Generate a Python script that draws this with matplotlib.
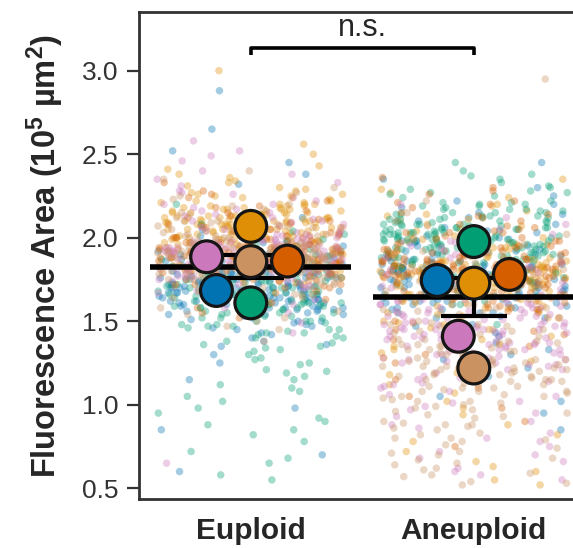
import numpy as np
import pandas as pd
import matplotlib
matplotlib.use("Agg")
import matplotlib.pyplot as plt
import seaborn as sns

# ---------------- data ----------------
conditions = ["Euploid", "Aneuploid"]
replicates = ["R1", "R2", "R3", "R4", "R5", "R6"]
palette = ["#0173b2", "#de8f05", "#029e73", "#d55e00", "#cc78bc", "#ca9161"]

# replicate means (big circles), order = replicates
means_euploid = [1.684, 2.068, 1.61, 1.86, 1.886, 1.857]
means_aneuploid = [1.744, 1.728, 1.977, 1.78, 1.41, 1.22]

# individual cell values (small dots), per replicate
eu_r1 = [1.68,1.74,1.61,1.80,1.55,1.71,1.88,1.64,1.77,1.50,1.69,1.93,1.58,1.73,1.66,1.84,1.47,1.70,1.79,1.62,1.98,1.56,1.75,1.67,1.86,1.43,1.72,1.60,1.81,1.65,2.05,1.53,1.76,1.69,1.90,1.38,1.63,1.78,1.70,2.52,1.57,1.83,1.66,1.73,1.30,1.95,1.61,1.76,2.65,1.68,1.48,1.85,1.72,0.98,1.64,1.79,2.88,1.59,1.70,0.60,1.82,1.66,2.45,1.54,1.75,0.85,1.71,1.63,2.12,1.77,
         1.70,1.62,1.78,1.57,1.73,1.66,1.84,1.52,1.69,1.75,1.60,1.81,1.64,1.71,1.49,1.77,1.67,1.90,1.58,1.72,1.63,1.86,1.54,1.74,1.68,1.95,1.45,1.70,1.79,1.61,1.83,1.56,1.76,1.65,2.01,1.40,1.72,1.59,1.88,1.67,1.35,1.80,1.62,2.32,1.74,1.51,1.92,1.69,1.25,1.78,
         1.66,1.72,1.59,1.77,1.63,1.70,1.54,1.81,1.68,1.74,1.61,1.87,1.65,1.71,1.57,1.79,1.69,1.50,1.76,1.64,1.83,1.73,1.60,1.91,1.67,1.46,1.75,1.62,1.85,1.70,1.42,1.78,1.66,1.97,1.58,1.73,1.36,1.82,1.64,2.08,1.71,1.55,1.89,1.68,1.15,1.76,2.38,1.63,0.70,1.80]
eu_r2 = [2.05,1.98,2.12,2.21,1.87,2.03,2.15,1.93,2.08,2.26,1.99,2.11,1.82,2.04,2.17,2.31,1.95,2.07,2.00,2.13,1.90,2.22,2.06,1.85,2.02,2.18,2.09,1.96,2.14,2.36,1.79,2.01,2.10,2.24,1.94,2.05,2.19,1.88,2.12,2.03,1.97,2.28,2.08,1.91,2.16,2.00,2.06,1.84,2.20,2.11,1.99,2.04,2.33,1.76,2.09,2.14,1.93,2.02,2.25,1.89,2.07,2.17,1.98,2.43,1.70,2.10,2.01,3.00,1.95,2.13,
         2.08,1.96,2.15,2.02,2.22,1.91,2.10,2.04,2.19,1.86,2.06,2.13,1.99,2.27,2.01,2.11,1.93,2.17,2.05,2.30,1.88,2.09,2.00,2.21,1.97,2.14,2.07,1.83,2.24,2.03,2.12,1.95,2.18,2.06,2.38,1.80,2.10,1.98,2.16,2.04,2.26,1.92,2.08,2.50,1.74,2.13,2.02,2.20,1.90,2.07,
         2.06,1.99,2.11,2.03,2.17,1.94,2.09,2.01,2.14,1.89,2.05,2.20,1.97,2.12,2.02,2.25,1.92,2.08,2.15,1.85,2.04,2.10,1.96,2.29,2.00,2.13,1.87,2.18,2.06,1.93,2.34,2.03,2.11,1.81,2.07,2.23,1.98,2.15,1.78,2.09,2.41,2.01,2.16,1.95,2.05,2.56,1.72,2.12,2.00,2.19]
eu_r3 = [1.61,1.72,1.55,1.80,1.66,1.45,1.75,1.58,1.90,1.68,1.38,1.78,1.63,1.50,1.85,1.70,1.28,1.64,1.95,1.57,1.74,1.42,1.82,1.67,1.19,1.60,1.88,1.71,1.35,1.77,1.52,2.02,1.65,1.10,1.73,1.59,1.86,1.47,1.69,0.92,1.79,1.62,1.40,2.10,1.54,1.76,0.78,1.66,1.83,1.24,1.70,1.56,0.65,1.92,1.63,1.33,1.74,1.05,1.68,1.87,0.58,1.49,1.78,1.15,1.60,2.20,0.85,1.72,1.44,1.98,
         1.64,1.52,1.75,1.58,1.69,1.46,1.81,1.62,1.55,1.72,1.37,1.66,1.88,1.50,1.77,1.60,1.30,1.70,1.57,1.93,1.43,1.67,1.21,1.79,1.63,1.48,1.85,1.12,1.71,1.54,1.99,1.34,1.68,1.02,1.76,1.59,1.40,1.90,0.88,1.65,1.53,0.72,1.82,1.61,1.27,1.74,0.95,1.69,1.45,2.08,
         1.62,1.70,1.55,1.76,1.60,1.67,1.48,1.73,1.58,1.83,1.64,1.41,1.71,1.53,1.79,1.66,1.32,1.75,1.57,1.89,1.62,1.25,1.69,1.50,1.84,1.17,1.73,1.59,1.96,1.08,1.66,1.43,1.78,0.98,1.61,1.86,1.36,0.82,1.70,1.52,0.68,1.77,1.63,1.20,2.04,0.55,1.67,1.47,0.90,1.74]
eu_r4 = [1.86,1.91,1.80,1.97,1.84,1.89,2.03,1.77,1.93,1.85,1.99,1.72,1.88,2.08,1.82,1.90,1.95,1.75,1.87,2.12,1.83,1.92,1.68,1.96,1.86,2.01,1.79,1.89,2.15,1.81,1.94,1.73,1.88,2.05,1.84,1.98,1.63,1.90,1.86,2.19,1.78,1.92,1.85,2.00,1.70,1.87,1.95,1.80,2.10,1.89,1.83,1.96,1.76,1.91,2.06,1.85,1.58,1.93,1.88,2.22,1.82,1.97,1.74,1.90,1.86,2.02,1.79,1.94,1.87,2.28,
         1.88,1.81,1.94,1.77,1.90,1.84,2.00,1.72,1.87,1.96,1.79,1.92,1.85,2.06,1.75,1.89,1.83,1.98,1.69,1.91,1.86,2.11,1.78,1.93,1.82,2.03,1.66,1.88,1.95,1.80,2.16,1.74,1.90,1.84,1.99,1.61,1.87,2.08,1.79,1.93,1.71,2.24,1.85,1.89,1.55,1.97,1.82,2.01,1.76,1.92,
         1.87,1.83,1.92,1.78,1.89,1.85,1.97,1.75,1.90,1.82,2.02,1.73,1.88,1.94,1.80,2.07,1.86,1.70,1.91,1.84,2.13,1.77,1.93,1.87,1.67,1.99,1.81,2.18,1.89,1.74,1.95,1.64,2.04,1.85,1.79,2.26,1.90,1.59,1.97,1.83,2.09,1.72,1.88,1.52,2.00,1.86,2.33,1.78,1.92,1.84]
eu_r5 = [1.89,1.95,1.82,2.04,1.76,1.91,2.10,1.85,1.98,1.70,1.93,2.17,1.87,1.80,2.01,1.92,1.65,1.96,2.24,1.84,1.90,2.07,1.78,1.99,1.88,2.35,1.73,1.94,1.86,2.12,1.81,1.97,1.60,1.91,2.03,1.83,2.46,1.89,1.75,2.00,1.94,1.87,2.15,1.79,1.92,1.68,2.06,1.85,1.96,2.28,1.82,1.90,1.55,1.99,1.88,2.09,1.77,1.93,2.40,1.86,1.84,2.02,1.71,1.95,1.90,0.65,1.98,1.81,2.20,1.87,
         1.90,1.84,1.97,1.79,1.93,2.05,1.86,1.72,1.95,2.13,1.82,1.91,1.99,1.76,1.88,2.20,1.85,1.67,1.94,2.08,1.80,1.92,1.87,2.31,1.74,1.96,1.89,2.02,1.63,1.91,2.52,1.83,1.98,1.78,2.11,1.88,1.70,1.95,2.26,1.86,1.93,1.58,2.04,1.81,1.90,2.16,1.77,1.97,1.49,1.89,
         1.88,1.94,1.81,2.00,1.86,1.77,1.96,2.08,1.83,1.91,2.18,1.74,1.92,1.87,2.04,1.69,1.95,2.27,1.80,1.90,1.99,1.64,1.89,2.14,1.85,2.38,1.78,1.97,1.93,1.56,2.06,1.84,2.22,1.73,1.91,2.49,1.82,1.98,1.66,2.10,1.88,2.33,1.79,1.94,1.43,2.02,1.87,2.58,1.76,1.92]
eu_r6 = [1.86,1.92,1.78,2.01,1.84,1.95,1.71,1.88,2.07,1.80,1.90,1.99,1.74,1.87,2.12,1.83,1.93,1.68,1.97,1.85,2.04,1.79,1.89,1.62,1.94,2.15,1.81,1.87,1.76,2.02,1.91,1.58,1.84,1.98,2.20,1.73,1.88,1.82,2.06,1.95,1.66,1.86,1.77,2.10,1.90,1.83,1.52,1.96,1.89,2.25,1.80,1.92,1.70,2.00,1.85,1.75,1.94,2.08,1.87,1.64,1.91,1.81,2.03,1.78,1.99,1.45,1.88,2.30,1.84,1.93,
         1.85,1.91,1.79,1.97,1.83,1.88,2.05,1.74,1.93,1.86,2.01,1.70,1.89,1.82,2.10,1.77,1.95,1.84,1.66,1.92,1.87,2.17,1.80,1.90,1.61,1.98,1.85,2.07,1.76,1.88,1.56,1.94,1.83,2.23,1.72,1.91,1.86,2.02,1.68,1.89,1.81,2.13,1.78,1.96,1.50,1.87,2.35,1.84,1.92,1.75,
         1.87,1.82,1.93,1.77,1.90,1.85,2.00,1.72,1.88,1.95,1.80,2.06,1.84,1.91,1.69,1.98,1.86,2.12,1.75,1.89,1.83,2.04,1.64,1.92,1.87,2.19,1.79,1.94,1.59,1.85,2.09,1.81,1.97,1.73,2.27,1.88,1.66,1.90,2.01,1.54,1.86,2.14,1.78,1.95,1.47,2.40,1.83,1.91,1.38,1.89]

an_r1 = [1.74,1.80,1.67,1.86,1.71,1.92,1.62,1.78,1.69,1.98,1.75,1.58,1.83,1.72,2.04,1.65,1.88,1.77,1.53,1.81,1.70,2.10,1.76,1.60,1.85,1.73,1.95,1.66,1.79,1.48,1.90,1.74,2.15,1.63,1.82,1.70,1.55,1.87,1.76,2.00,1.68,1.43,1.84,1.72,1.97,1.61,1.79,2.20,1.75,1.57,1.89,1.71,1.38,1.83,1.77,2.06,1.64,1.80,1.52,1.93,1.73,1.30,1.86,1.69,2.25,1.78,1.60,1.91,1.74,1.05,
         1.76,1.69,1.83,1.64,1.79,1.72,1.91,1.58,1.77,1.85,1.67,1.81,1.74,1.97,1.61,1.78,1.70,1.89,1.55,1.80,1.73,2.03,1.63,1.84,1.76,1.47,1.87,1.71,2.12,1.59,1.82,1.68,1.94,1.41,1.79,1.75,2.18,1.65,1.86,1.33,1.73,1.99,1.60,1.81,1.22,1.77,2.30,1.70,0.95,1.84,
         1.75,1.71,1.81,1.66,1.77,1.84,1.62,1.79,1.73,1.90,1.68,1.82,1.57,1.76,1.95,1.70,1.86,1.64,1.80,2.01,1.74,1.52,1.83,1.69,2.08,1.78,1.45,1.88,1.72,2.14,1.61,1.80,1.37,1.92,1.75,2.22,1.66,1.27,1.85,1.71,1.98,1.17,1.79,2.35,1.63,1.02,1.82,0.85,1.74,2.45]
an_r2 = [1.73,1.82,1.65,1.90,1.77,1.58,1.86,1.70,1.96,1.63,1.80,1.75,2.02,1.55,1.84,1.68,1.93,1.72,1.48,1.88,1.79,2.08,1.61,1.76,1.99,1.66,1.83,1.41,1.91,1.74,2.14,1.59,1.81,1.69,1.95,1.35,1.78,1.87,1.64,2.05,1.72,1.26,1.85,1.77,1.98,1.53,1.70,2.20,1.82,1.18,1.67,1.89,1.75,1.02,1.94,1.60,2.11,1.79,0.88,1.71,1.86,1.45,2.00,1.76,0.72,1.84,1.62,2.27,1.73,0.55,
         1.75,1.66,1.84,1.59,1.79,1.71,1.92,1.52,1.77,1.86,1.64,1.81,1.97,1.46,1.74,1.88,1.68,2.04,1.39,1.80,1.72,1.94,1.31,1.83,1.76,2.10,1.57,1.85,1.23,1.78,1.99,1.62,1.87,1.12,1.73,2.16,1.69,0.98,1.82,1.90,1.54,0.82,1.77,2.24,1.65,0.66,1.84,1.43,2.01,0.60,
         1.74,1.68,1.80,1.61,1.76,1.87,1.56,1.78,1.70,1.93,1.50,1.82,1.73,2.00,1.44,1.79,1.88,1.65,2.07,1.36,1.75,1.84,1.58,2.13,1.28,1.81,1.72,1.96,1.19,1.77,2.19,1.63,1.07,1.86,1.71,0.94,1.83,2.29,1.67,0.78,1.80,1.90,0.63,1.76,1.49,2.35,0.52,1.85,1.33,1.98]
an_r3 = [1.98,2.05,1.91,2.12,1.95,2.01,2.18,1.88,2.07,1.97,2.22,1.84,2.03,1.93,2.15,2.00,1.80,2.09,1.96,2.27,1.90,2.04,1.86,2.13,1.99,2.08,1.76,2.20,1.94,2.02,2.31,1.89,2.06,1.97,1.72,2.11,2.00,1.92,2.17,1.85,2.04,2.35,1.95,2.10,1.82,1.99,2.24,1.91,2.06,1.68,2.14,1.98,2.02,1.87,2.19,1.94,2.08,1.78,2.29,2.01,1.93,2.12,1.60,2.05,1.96,2.40,1.88,2.03,2.16,1.99,
         2.00,1.93,2.08,1.87,2.03,1.96,2.14,1.90,2.06,1.99,2.21,1.84,2.02,1.95,2.11,1.79,2.05,1.97,2.26,1.91,2.09,1.86,2.01,2.17,1.94,2.07,1.74,2.13,1.98,2.33,1.89,2.04,1.96,2.19,1.82,2.10,1.99,1.70,2.06,1.92,2.28,2.02,1.88,2.15,1.95,1.65,2.08,2.37,1.93,2.03,
         1.99,1.94,2.06,1.89,2.02,2.10,1.92,2.04,1.85,2.15,1.97,2.08,1.81,2.01,2.20,1.95,2.11,1.77,2.05,2.25,1.91,2.03,1.73,2.17,1.98,2.30,1.87,2.07,1.68,2.13,1.96,2.38,1.83,2.05,1.62,2.21,1.93,2.00,2.45,1.79,2.09,1.55,2.16,1.97,2.02,1.90,2.27,1.48,2.12,1.95]
an_r4 = [1.78,1.85,1.71,1.92,1.76,1.99,1.66,1.82,1.74,2.04,1.80,1.63,1.88,1.77,2.10,1.69,1.84,1.94,1.59,1.81,1.73,2.01,1.86,1.67,1.90,1.75,2.15,1.62,1.83,1.79,1.97,1.55,1.87,1.72,2.07,1.78,1.64,1.91,1.81,2.22,1.70,1.50,1.85,1.76,1.96,1.68,1.89,2.12,1.74,1.45,1.82,1.93,1.77,1.58,2.03,1.71,1.86,1.39,1.98,1.80,2.18,1.66,1.84,1.75,1.30,1.90,1.79,2.30,1.72,1.10,
         1.80,1.73,1.87,1.68,1.83,1.76,1.95,1.62,1.81,1.90,1.71,1.85,2.01,1.66,1.79,1.93,1.57,1.84,1.75,2.06,1.69,1.88,1.52,1.82,1.77,1.98,1.64,2.13,1.86,1.44,1.80,1.91,1.72,2.20,1.60,1.84,1.35,1.78,2.03,1.67,1.89,1.25,1.81,2.26,1.74,1.15,1.87,1.96,1.70,0.98,
         1.79,1.74,1.86,1.70,1.82,1.92,1.66,1.84,1.77,1.97,1.61,1.83,2.03,1.72,1.88,1.56,1.80,2.08,1.68,1.91,1.49,1.85,2.14,1.75,1.42,1.89,2.21,1.64,1.81,1.33,1.94,1.76,2.28,1.58,1.87,1.22,1.83,2.00,1.69,1.05,1.90,2.36,1.78,0.90,1.86,1.73,2.05,0.75,1.81,1.95]
an_r5 = [1.41,1.52,1.33,1.60,1.45,1.25,1.68,1.38,1.55,1.18,1.47,1.74,1.30,1.58,1.42,1.10,1.64,1.36,1.82,1.49,1.22,1.56,1.40,1.90,1.28,1.62,1.02,1.46,1.71,1.34,1.53,0.95,1.78,1.43,1.26,1.98,1.50,1.15,1.66,1.37,0.88,1.59,1.44,2.05,1.20,1.54,1.31,0.80,1.70,1.48,1.12,1.85,1.39,0.72,1.61,1.27,1.94,1.45,0.66,1.57,1.35,1.76,1.05,1.51,2.12,1.24,1.63,0.60,1.41,1.88,
         1.43,1.35,1.54,1.27,1.48,1.61,1.32,1.19,1.51,1.69,1.39,1.08,1.57,1.45,1.77,1.24,1.50,0.99,1.63,1.37,1.86,1.29,1.53,0.90,1.44,1.72,1.16,1.58,1.33,1.95,0.83,1.47,1.66,1.21,1.55,0.75,1.40,1.81,1.13,1.60,1.36,2.02,0.68,1.49,1.25,1.74,0.58,1.42,1.91,1.30,
         1.40,1.48,1.31,1.56,1.42,1.23,1.62,1.36,1.52,1.14,1.45,1.70,1.28,1.55,1.06,1.39,1.79,1.21,1.58,0.97,1.46,1.88,1.34,1.64,0.86,1.50,1.17,1.73,1.41,0.78,1.60,1.30,1.97,0.70,1.44,1.11,1.83,1.53,0.62,1.37,2.08,1.26,1.67,0.55,1.47,1.01,1.92,1.33,2.20,0.93]
an_r6 = [1.22,1.35,1.10,1.48,1.18,1.02,1.40,1.28,0.95,1.55,1.15,1.30,0.88,1.62,1.25,1.06,1.44,0.80,1.33,1.70,1.12,0.98,1.52,1.20,0.74,1.38,1.78,1.08,1.27,0.68,1.58,1.16,1.45,0.92,1.85,1.23,1.04,1.36,0.62,1.66,1.19,1.50,0.85,1.31,1.92,1.11,0.57,1.42,1.26,1.74,0.96,1.34,1.14,2.02,0.78,1.47,1.21,1.60,0.52,1.29,1.09,1.82,0.90,1.39,2.95,1.17,0.70,1.56,1.24,2.10,
         1.20,1.33,1.07,1.45,1.15,1.28,0.99,1.52,1.24,1.02,1.38,0.86,1.60,1.18,1.30,0.93,1.43,1.11,1.68,0.80,1.35,1.22,1.55,0.72,1.26,1.05,1.76,0.89,1.40,1.14,1.63,0.65,1.32,1.20,1.88,0.83,1.48,1.08,1.71,0.58,1.27,1.16,1.96,0.76,1.37,1.03,1.58,0.54,1.23,2.15,
         1.21,1.30,1.12,1.41,1.17,1.26,1.01,1.47,1.23,0.94,1.36,1.08,1.54,0.87,1.29,1.15,1.62,0.79,1.34,1.19,1.72,0.71,1.39,1.05,1.81,0.64,1.27,1.13,1.90,0.59,1.44,1.00,1.65,0.53,1.32,1.24,2.00,0.82,1.49,1.10,1.77,0.67,1.37,2.07,0.97,1.57,0.61,1.25,2.22,0.88]

significance_label = "n.s."
ylabel_text = "Fluorescence Area (10$^{5}$ µm$^{2}$)"

# ---------------- tables ----------------
cells = {"Euploid": [eu_r1, eu_r2, eu_r3, eu_r4, eu_r5, eu_r6],
         "Aneuploid": [an_r1, an_r2, an_r3, an_r4, an_r5, an_r6]}
rows = []
for cond in conditions:
    for rep, vals in zip(replicates, cells[cond]):
        for v in vals:
            rows.append((cond, rep, v))
df_cells = pd.DataFrame(rows, columns=["condition", "replicate", "value"])

rep_means = {"Euploid": means_euploid, "Aneuploid": means_aneuploid}

# ---------------- figure ----------------
plt.rcParams["font.family"] = ["Liberation Sans", "DejaVu Sans"]
plt.rcParams["mathtext.default"] = "regular"

fig = plt.figure(figsize=(5.73, 5.48), dpi=100)
ax = fig.add_axes([0.2431, 0.0889, 0.7784, 0.8897])

sns.stripplot(data=df_cells, x="condition", y="value", hue="replicate", order=conditions,
              hue_order=replicates, palette=palette, jitter=0.42, size=5.4, alpha=0.36,
              linewidth=0, legend=False, zorder=1, ax=ax)

ax.set_xlim(-0.5, 1.5)
ax.set_ylim(0.434, 3.353)

xpos = np.arange(len(conditions))
grand = np.array([np.mean(rep_means[c]) for c in conditions])
sem = np.array([np.std(rep_means[c], ddof=1) / np.sqrt(len(rep_means[c])) for c in conditions])

ax.hlines(grand, xpos - 0.45, xpos + 0.45, color="black", lw=4, zorder=3)
ax.errorbar(xpos, grand, yerr=sem, fmt="none", ecolor="black", elinewidth=3,
            capsize=24, capthick=3, zorder=3)

# beeswarm layout for replicate means (same rule as seaborn's swarmplot)
MEAN_SIZE = 22.9
MEAN_LW = 2.3


def beeswarm_offsets(values, ax, radius_px):
    pts = ax.transData.transform(np.column_stack([np.zeros(len(values)), values]))
    ypix = pts[:, 1]
    order = np.argsort(ypix, kind="stable")
    placed = []
    offs = np.zeros(len(values))
    d = 2 * radius_px
    for i in order:
        y = ypix[i]
        neigh = [(xj, yj) for xj, yj in placed if abs(y - yj) < d]
        cands = [0.0]
        for xj, yj in neigh:
            dx = np.sqrt(max(d ** 2 - (y - yj) ** 2, 0)) * 1.05
            cands += [xj - dx, xj + dx]
        cands.sort(key=lambda c: (round(abs(c), 6), c))
        chosen = cands[-1]
        for c in cands:
            if all((c - xj) ** 2 + (y - yj) ** 2 >= d ** 2 - 1e-6 for xj, yj in neigh):
                chosen = c
                break
        placed.append((chosen, y))
        offs[i] = chosen
    x0 = ax.transData.transform([[0, 0]])[0, 0]
    x1 = ax.transData.transform([[1, 0]])[0, 0]
    return offs / (x1 - x0)


radius_px = (MEAN_SIZE + MEAN_LW) / 2 * fig.dpi / 72
for k, cond in enumerate(conditions):
    vals = np.array(rep_means[cond])
    offs = beeswarm_offsets(vals, ax, radius_px)
    ax.scatter(xpos[k] + offs, vals, s=MEAN_SIZE ** 2, c=palette, edgecolors="#151515",
               linewidths=MEAN_LW, zorder=5)

# significance bracket
ax.plot([xpos[0], xpos[0], xpos[1], xpos[1]], [3.095, 3.135, 3.135, 3.095],
        color="black", lw=2.6, zorder=4, solid_capstyle="butt")
ax.text(xpos.mean(), 3.163, significance_label, ha="center", va="bottom",
        fontsize=22, color="0.15")

ax.set_yticks([0.5, 1.0, 1.5, 2.0, 2.5, 3.0])
ax.set_yticklabels(["0.5", "1.0", "1.5", "2.0", "2.5", "3.0"])
ax.set_xticks(xpos)
ax.set_xticklabels(conditions)
ax.set_xlabel("")
ax.set_ylabel(ylabel_text, fontsize=23.5, fontweight="bold", color="0.15")
ax.yaxis.set_label_coords(-0.165, 0.5)

for s in ["left", "bottom", "top", "right"]:
    ax.spines[s].set_linewidth(2.0)
    ax.spines[s].set_color("0.2")

ax.tick_params(axis="y", length=9, width=1.6, color="0.2", labelsize=19,
               labelcolor="0.2", pad=6)
ax.tick_params(axis="x", length=0, pad=13, labelsize=21.5, labelcolor="0.15")
for lab in ax.get_xticklabels():
    lab.set_fontweight("bold")

fig.savefig("out.png", dpi=100)
